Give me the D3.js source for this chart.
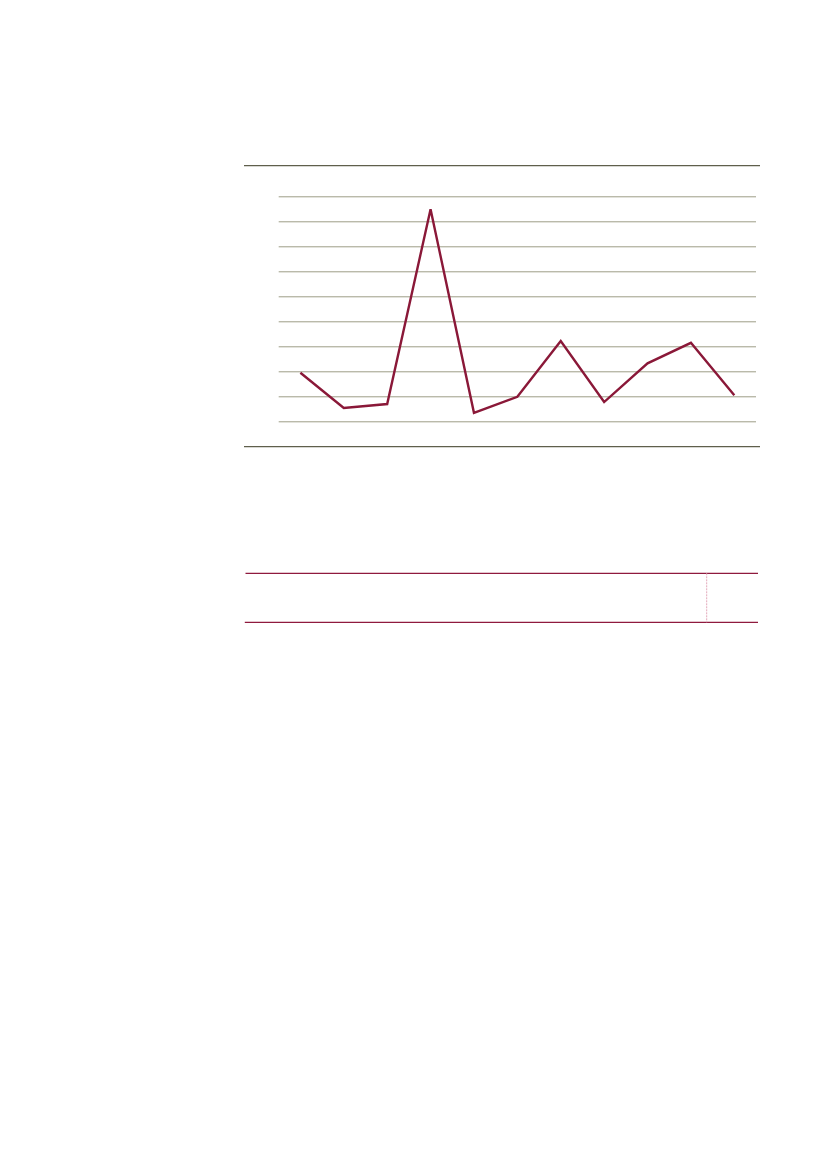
<!DOCTYPE html>
<html>
<head>
<meta charset="utf-8">
<script src="https://cdn.jsdelivr.net/npm/d3@7"></script>
<style>
  html, body { margin: 0; padding: 0; background: #fff; }
  svg { display: block; }
</style>
</head>
<body>
<div id="chart"></div>
<script>
// Données (aucun libellé visible)
const categories = ['1', '2', '3', '4', '5', '6', '7', '8', '9', '10', '11'];
const values = [1.94, 0.53, 0.69, 8.48, 0.34, 0.98, 3.21, 0.77, 2.32, 3.14, 1.04];
const yTicks = [0, 1, 2, 3, 4, 5, 6, 7, 8, 9];

const width = 827;
const height = 1169;

const svg = d3.select('#chart')
  .append('svg')
  .attr('width', width)
  .attr('height', height);

// Zone du graphique
const plot = { left: 278.7, right: 756, top: 196.3, bottom: 421.3 };

const x = d3.scalePoint()
  .domain(categories)
  .range([plot.left, plot.right])
  .padding(0.5);

const y = d3.scaleLinear()
  .domain([0, 9])
  .range([plot.bottom, plot.top]);

// Filets haut et bas du cadre
[165.7, 446.7].forEach(yy => {
  svg.append('line')
    .attr('x1', 244).attr('x2', 760)
    .attr('y1', yy).attr('y2', yy)
    .attr('stroke', '#5f5f4c')
    .attr('stroke-width', 1.3);
});

// Grille horizontale
const grid = svg.append('g')
  .attr('transform', `translate(${plot.left},0)`)
  .call(d3.axisLeft(y)
    .tickValues(yTicks)
    .tickSize(-(plot.right - plot.left))
    .tickFormat(''));

grid.select('.domain').remove();
grid.selectAll('.tick line')
  .attr('stroke', '#9d9d86')
  .attr('stroke-width', 1);

// Courbe
const line = d3.line()
  .x((d, i) => x(categories[i]))
  .y(d => y(d));

svg.append('path')
  .datum(values)
  .attr('d', line)
  .attr('fill', 'none')
  .attr('stroke', '#8a1838')
  .attr('stroke-width', 2.4)
  .attr('stroke-linejoin', 'miter');

// Tableau vide sous le graphique
const table = svg.append('g');

table.append('line')
  .attr('x1', 245.5).attr('x2', 758)
  .attr('y1', 573.3).attr('y2', 573.3)
  .attr('stroke', '#8f1a3e')
  .attr('stroke-width', 1.2);

table.append('line')
  .attr('x1', 244.8).attr('x2', 758)
  .attr('y1', 622.3).attr('y2', 622.3)
  .attr('stroke', '#8f1a3e')
  .attr('stroke-width', 1.2);

table.append('line')
  .attr('x1', 706.7).attr('x2', 706.7)
  .attr('y1', 573.3).attr('y2', 622.3)
  .attr('stroke', '#e3a9ba')
  .attr('stroke-width', 1)
  .attr('stroke-dasharray', '2,1');
</script>
</body>
</html>
